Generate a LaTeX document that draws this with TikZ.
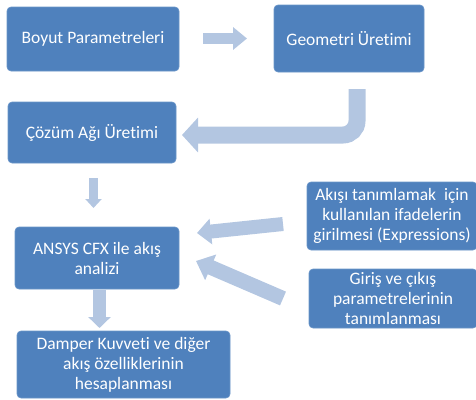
\documentclass[tikz,border=0pt]{standalone}
\usepackage{fontspec}
\setmainfont{Carlito}[Ligatures={NoCommon,NoContextual}]
\usetikzlibrary{arrows.meta}
\definecolor{boxblue}{HTML}{4F81BD}
\definecolor{boxedge}{HTML}{6A95C8}
\definecolor{arrowblue}{HTML}{B3C6E1}
\begin{document}
\begin{tikzpicture}[x=1pt,y=-1pt,
  box/.style={draw=boxedge, line width=0.6pt, fill=boxblue, rounded corners=4pt,
    text=white, align=center, font=\fontsize{17.5}{20}\selectfont, inner sep=0pt},
  blockarrow/.style={draw=arrowblue, line cap=butt}]
\useasboundingbox (0,0) rectangle (476,399);
\node[box, minimum width=172pt, minimum height=64pt] (b1) at (93,39) {Boyut Parametreleri};
\node[box, minimum width=150pt, minimum height=67pt] (b2) at (349,38.5) {Geometri Üretimi};
\node[box, minimum width=168pt, minimum height=61pt] (b3) at (92,132.5) {Çözüm Ağı Üretimi};
\node[box, minimum width=170pt, minimum height=68pt] (b4) at (392,216) {Akışı tanımlamak\ \ için\\kullanılan ifadelerin\\girilmesi (Expressions)};
\node[box, minimum width=164pt, minimum height=62pt] (b5) at (97,258) {ANSYS CFX ile akış\\analizi};
\node[box, minimum width=168pt, minimum height=59pt] (b6) at (393,298.5) {Giriş ve çıkış\\parametrelerinin\\tanımlanması};
\node[box, minimum width=213pt, minimum height=67pt] (b7) at (123.5,364.5) {Damper Kuvveti ve diğer\\akış özelliklerinin\\hesaplanması};
% arrow end points
\coordinate (a1s) at (203,38.5);
\coordinate (a1e) at (247,38.5);
\coordinate (a2s) at (357,89);
\coordinate (a2m) at (357,135);
\coordinate (a2e) at (182,135);
\coordinate (a3s) at (93.5,178);
\coordinate (a3e) at (93.5,208);
\coordinate (a4s) at (283,224);
\coordinate (a4e) at (197,233);
\coordinate (a5s) at (283,298.5);
\coordinate (a5e) at (196,261);
\coordinate (a6s) at (99.5,290);
\coordinate (a6e) at (99.5,328);
\draw[blockarrow, line width=11pt, -{Triangle[width=22pt,length=14pt]}] (a1s) -- (a1e);
\draw[blockarrow, line width=17pt, rounded corners=14pt, -{Triangle[width=34pt,length=16pt]}] (a2s) -- (a2m) -- (a2e);
\draw[blockarrow, line width=9pt, -{Triangle[width=16pt,length=9pt]}] (a3s) -- (a3e);
\draw[blockarrow, line width=14pt, -{Triangle[width=25pt,length=14pt]}] (a4s) -- (a4e);
\draw[blockarrow, line width=15pt, -{Triangle[width=27pt,length=16pt]}] (a5s) -- (a5e);
\draw[blockarrow, line width=13pt, -{Triangle[width=22pt,length=11pt]}] (a6s) -- (a6e);
\end{tikzpicture}
\end{document}
